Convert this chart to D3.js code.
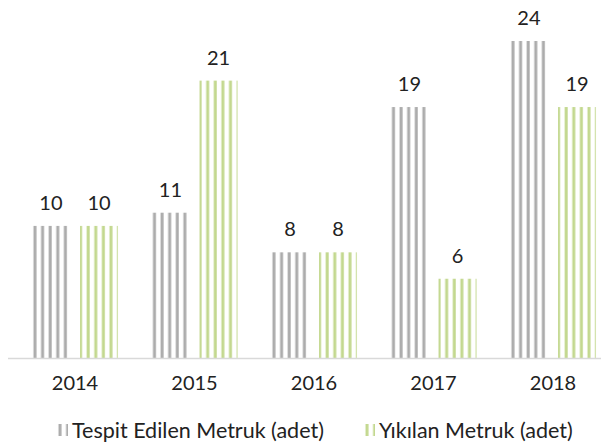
<!DOCTYPE html>
<html>
<head>
<meta charset="utf-8">
<script src="https://cdn.jsdelivr.net/npm/d3@7"></script>
<style>
  html, body { margin: 0; padding: 0; background: #fff; }
  svg { display: block; }
  text { font-family: Lato, "Open Sans", sans-serif; fill: #222; }
</style>
</head>
<body>
<svg id="chart" width="601" height="447"></svg>
<script>
// Yearly counts of derelict buildings: identified vs. demolished
const years = ["2014", "2015", "2016", "2017", "2018"];
const tespitEdilen = [10, 11, 8, 19, 24];
const yikilan = [10, 21, 8, 6, 19];
const seriesNames = ["Tespit Edilen Metruk (adet)", "Yıkılan Metruk (adet)"];

const svg = d3.select("#chart");
const W = 601;
const baseY = 358;

const x0 = d3.scaleBand().domain(years).range([15.25, 612.75]).paddingInner(0.28).paddingOuter(0.14);
const x1 = d3.scaleBand().domain([0, 1]).range([0, x0.bandwidth()]).paddingInner(0.21);
const y = d3.scaleLinear().domain([0, 24]).range([baseY, 41]);

const colors = ["#acacac", "#c3d88f"];

// vertical-stripe fills for the two series
const defs = svg.append("defs");
colors.forEach((c, i) => {
  const p = defs.append("pattern")
    .attr("id", "stripe" + i)
    .attr("patternUnits", "userSpaceOnUse")
    .attr("width", 7.6).attr("height", 10);
  p.append("rect").attr("x", 1.5).attr("y", 0).attr("width", 3).attr("height", 10).attr("fill", c);
});

const rows = years.map((yr, i) => ({ year: yr, values: [tespitEdilen[i], yikilan[i]] }));

const g = svg.append("g");
const groups = g.selectAll("g.year").data(rows).join("g")
  .attr("class", "year")
  .attr("transform", d => `translate(${x0(d.year)},0)`);

groups.selectAll("rect").data(d => d.values.map((v, k) => ({ v, k }))).join("rect")
  .attr("x", d => x1(d.k))
  .attr("y", d => y(d.v))
  .attr("width", x1.bandwidth())
  .attr("height", d => baseY - y(d.v))
  .attr("fill", d => `url(#stripe${d.k})`);

groups.selectAll("text.val").data(d => d.values.map((v, k) => ({ v, k }))).join("text")
  .attr("class", "val")
  .attr("x", d => x1(d.k) + x1.bandwidth() / 2)
  .attr("y", d => y(d.v) - 16)
  .attr("text-anchor", "middle")
  .attr("font-size", 20)
  .text(d => d.v);

// baseline
svg.append("line")
  .attr("x1", 8).attr("x2", W).attr("y1", baseY + 0.5).attr("y2", baseY + 0.5)
  .attr("stroke", "#d9d9d9").attr("stroke-width", 1.5);

// category axis
const xAxis = svg.append("g").attr("transform", `translate(0,${baseY})`)
  .call(d3.axisBottom(x0).tickSize(0).tickPadding(18));
xAxis.select(".domain").remove();
xAxis.selectAll("text").attr("font-size", 20).style("font-family", "Lato, 'Open Sans', sans-serif").attr("fill", "#222");

// legend
const legend = svg.append("g").attr("transform", "translate(0,430)");
const legendX = [57, 364];
seriesNames.forEach((name, i) => {
  const lg = legend.append("g").attr("transform", `translate(${legendX[i]},0)`);
  lg.append("rect").attr("x", 0).attr("y", -6).attr("width", 11).attr("height", 12)
    .attr("fill", `url(#stripe${i})`);
  lg.append("text").attr("x", 15).attr("y", 0).attr("dy", "0.35em")
    .attr("font-size", 21.5).text(name);
});
</script>
</body>
</html>
